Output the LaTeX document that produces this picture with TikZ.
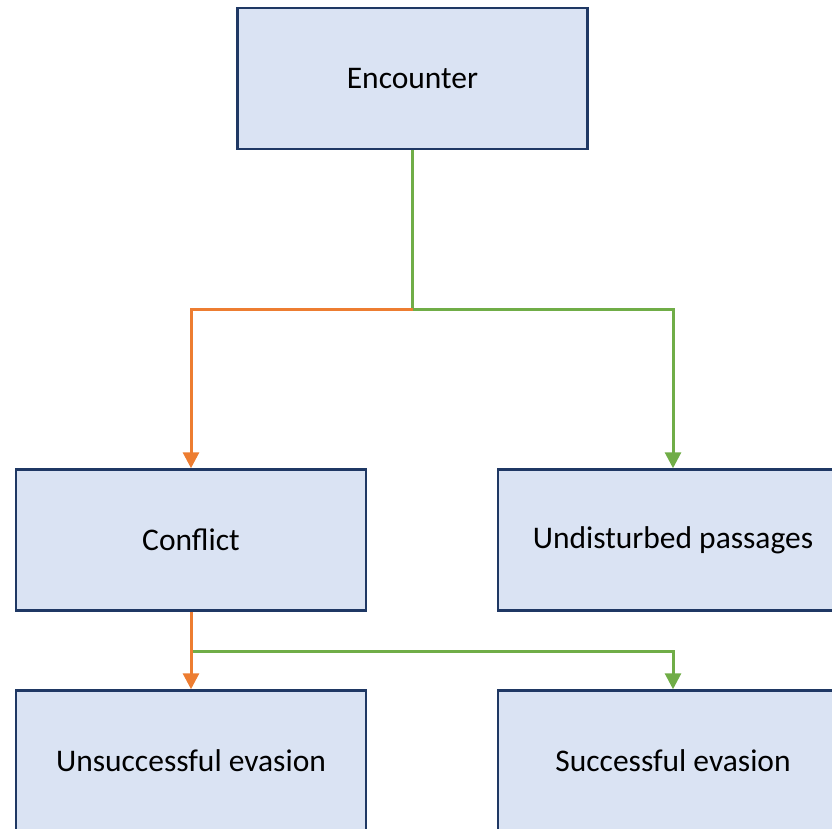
\documentclass[tikz,border=0pt]{standalone}
\usepackage{fontspec}
\setmainfont{Carlito}
\usetikzlibrary{arrows.meta}
\definecolor{boxfill}{HTML}{DAE3F3}
\definecolor{boxline}{HTML}{1F3864}
\definecolor{orn}{HTML}{ED7D31}
\definecolor{grn}{HTML}{70AD47}
\begin{document}
\begin{tikzpicture}[x=1pt,y=1pt,
  box/.style={draw=boxline,fill=boxfill,line width=2.5pt,minimum width=350pt,minimum height=141pt,inner sep=0pt,font=\fontsize{31.5}{36}\selectfont},
  oline/.style={draw=orn,line width=3pt},
  gline/.style={draw=grn,line width=3pt},
  tip/.style={-{Triangle[width=16pt,length=16pt]}}]
\useasboundingbox (0,0) rectangle (832,-829);
\clip (0,0) rectangle (832,-829);
\node[box] (enc) at (412.5,-78.5) {Encounter};
\node[box] (con) at (191,-540) {Conflict};
\node[box] (und) at (673,-540) {Undisturbed passages};
\node[box] (uns) at (191,-761) {Unsuccessful evasion};
\node[box] (suc) at (673,-761) {Successful evasion};
\coordinate (j1) at (412.5,-309);
\coordinate (j2) at (191,-651);
\draw[gline] (enc.south) -- (j1);
\draw[oline,tip] (j1) -| (con.north);
\draw[gline,tip] (j1) -| (und.north);
\draw[gline,tip] (j2) -| (suc.north);
\draw[oline,tip] (con.south) -- (uns.north);
\end{tikzpicture}
\end{document}
